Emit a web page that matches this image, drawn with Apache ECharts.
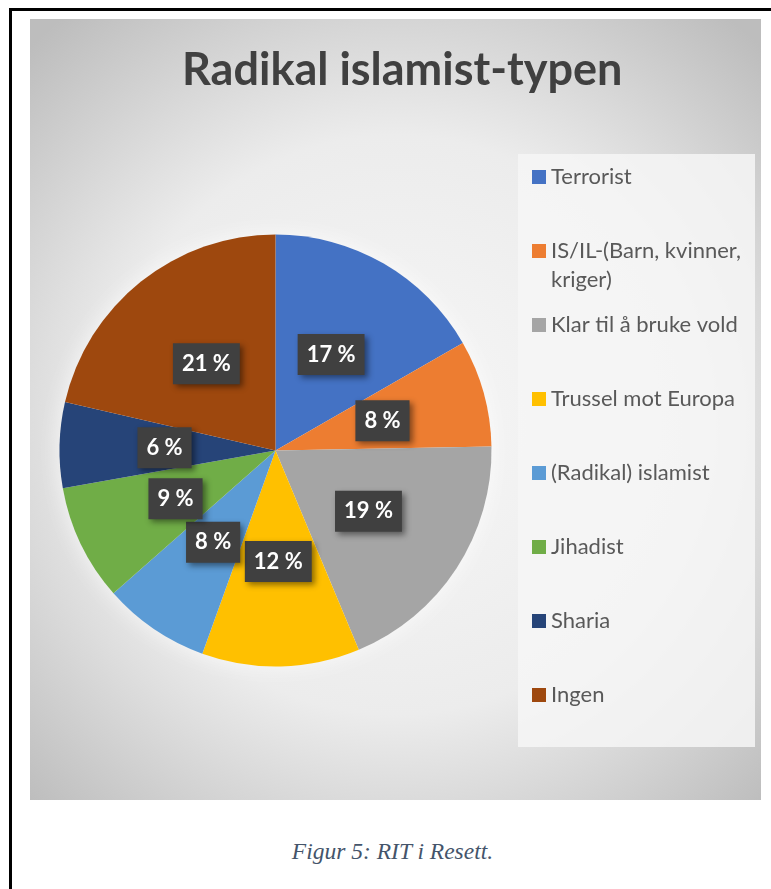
<!DOCTYPE html>
<html>
<head>
<meta charset="utf-8">
<script src="https://cdn.jsdelivr.net/npm/echarts@6/dist/echarts.min.js"></script>
<style>
  html, body { margin:0; padding:0; width:771px; height:889px; overflow:hidden; background:#fff; }
  #frame { position:absolute; left:9px; top:8px; width:820px; height:920px; border:3px solid #000; box-sizing:border-box; }
  #chart { position:absolute; left:30px; top:19px; width:731px; height:781px; }
  #caption { position:absolute; left:7px; width:771px; top:838px; text-align:center;
    font-family:"Liberation Serif","Times New Roman",serif; font-style:italic; font-size:23.5px; color:#44546A; }
</style>
</head>
<body>
<div id="frame"></div>
<div id="chart"></div>
<div id="caption">Figur 5: RIT i Resett.</div>
<script>
const titleText = 'Radikal islamist-typen';
const categories = ['Terrorist', 'IS/IL-(Barn, kvinner, kriger)', 'Klar til å bruke vold', 'Trussel mot Europa',
  '(Radikal) islamist', 'Jihadist', 'Sharia', 'Ingen'];
const legendText = ['Terrorist', 'IS/IL-(Barn, kvinner,\nkriger)', 'Klar til å bruke vold', 'Trussel mot Europa',
  '(Radikal) islamist', 'Jihadist', 'Sharia', 'Ingen'];
const values = [16.7, 8.0, 19.0, 11.8, 8.0, 8.7, 6.4, 21.4];
const colors = ['#4472C4', '#ED7D31', '#A5A5A5', '#FFC000', '#5B9BD5', '#70AD47', '#264478', '#9E480E'];

const chart = echarts.init(document.getElementById('chart'), null, { renderer: 'canvas' });

const pieCenter = [245.5, 431.5];
const pieRadius = 216;
const lh = 29;

const legends = categories.map((name, i) => {
  const extra = legendText[i].split('\n').length - 1;
  // pad with leading empty lines so the first text line stays level with the icon
  const shown = '\n'.repeat(extra) + legendText[i];
  const nLines = shown.split('\n').length;
  return {
    orient: 'vertical',
    left: 502,
    top: 158 + i * 74 - nLines * lh / 2,
    padding: 0,
    icon: 'rect',
    itemWidth: 14,
    itemHeight: 14,
    itemGap: 0,
    selectedMode: false,
    data: [name],
    formatter: () => shown,
    textStyle: {
      fontFamily: 'Lato',
      fontSize: 22,
      color: '#595959',
      lineHeight: lh
    }
  };
});

chart.setOption({
  backgroundColor: {
    type: 'radial', x: 0.5, y: 0.52, r: 0.72,
    colorStops: [
      { offset: 0, color: '#f7f7f7' },
      { offset: 0.55, color: '#ececec' },
      { offset: 1, color: '#bdbdbd' }
    ]
  },
  color: colors,
  title: {
    text: titleText,
    left: 152,
    top: 29,
    padding: 0,
    textStyle: { fontFamily: 'Lato', fontWeight: 'bold', fontSize: 45, color: '#404040' }
  },
  graphic: [
    {
      type: 'rect',
      shape: { x: 488, y: 135, width: 237, height: 593 },
      style: { fill: 'rgba(246,246,246,0.85)' },
      z: 1, silent: true
    },
    {
      type: 'circle',
      shape: { cx: pieCenter[0], cy: pieCenter[1], r: pieRadius - 2 },
      style: { fill: '#ffffff', shadowBlur: 24, shadowColor: 'rgba(255,255,255,0.8)' },
      z: 0, silent: true
    }
  ],
  legend: legends,
  series: [{
    type: 'pie',
    center: pieCenter,
    radius: pieRadius,
    startAngle: 90,
    clockwise: true,
    animation: false,
    silent: true,
    itemStyle: { borderWidth: 0 },
    label: {
      show: true,
      position: 'inside',
      formatter: p => Math.round(p.percent) + ' %',
      fontFamily: 'Lato',
      fontWeight: 'bold',
      fontSize: 22,
      lineHeight: 24,
      color: '#ffffff',
      backgroundColor: '#404040',
      padding: [9, 9, 8, 9],
      shadowColor: 'rgba(0,0,0,0.45)',
      shadowBlur: 6,
      shadowOffsetX: 3,
      shadowOffsetY: 3
    },
    labelLine: { show: false },
    data: categories.map((n, i) => ({ name: n, value: values[i] }))
  }]
});
</script>
</body>
</html>
